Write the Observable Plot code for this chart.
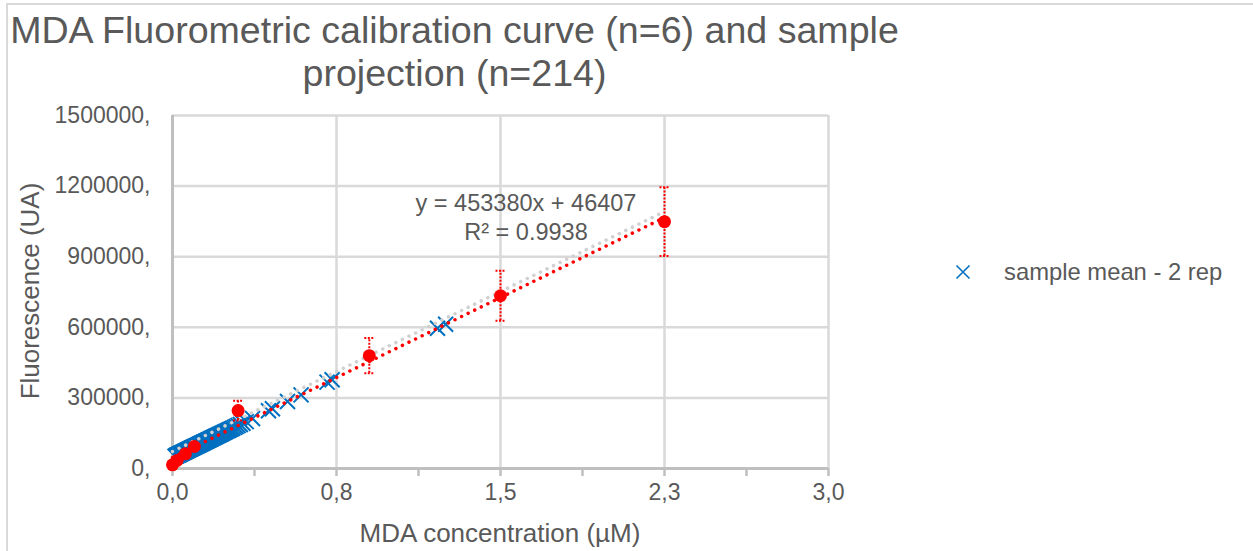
<!DOCTYPE html>
<html>
<head>
<meta charset="utf-8">
<script src="https://cdn.jsdelivr.net/npm/d3@7"></script>
<script src="https://cdn.jsdelivr.net/npm/@observablehq/plot@0.6"></script>
<style>
  html, body { margin: 0; padding: 0; background: #fff; }
  #wrap { position: relative; width: 1253px; height: 551px; overflow: hidden; font-family: "Liberation Sans", Arial, sans-serif; color: #595959; }
  #frame { position: absolute; left: 6px; top: 3px; width: 1260px; height: 560px; border-top: 2px solid #d9d9d9; border-left: 2px solid #d9d9d9; box-sizing: border-box; }
  #chart { position: absolute; left: 0; top: 0; }
  .ov { position: absolute; white-space: nowrap; }
</style>
</head>
<body>
<div id="wrap">
  <div id="frame"></div>
  <div id="chart"></div>
</div>
<script>
// ---- Data ----
const titleLines = ["MDA Fluorometric calibration curve (n=6) and sample", "projection (n=214)"];
const xTitle = "MDA concentration (µM)";
const yTitle = "Fluorescence (UA)";
const legendLabel = "sample mean - 2 rep";

// calibration standards (mean of n=6) with standard deviation
const calConc = [0, 0.021, 0.059, 0.1, 0.3, 0.9, 1.5, 2.25];
const calFluo = [15700, 34000, 62400, 93400, 246000, 479600, 734000, 1049000];
const calErr  = [3000, 5000, 8000, 12000, 42000, 75000, 106000, 146000];

// calibration equation
const slope = 453380;
const intercept = 46407;
const r2 = 0.9938;

// sample fluorescence readings (projected onto the calibration curve)
const sampleFluo = [51800, 53200, 54100, 55000, 55900, 56400, 57300, 58200, 58600, 59600, 60500, 60900, 61800, 62700, 63200, 64100, 65000, 65900, 66400, 67300, 68200, 68600, 69500, 70400, 71300, 71800, 72700, 73600, 74100, 75000, 75900, 76300, 77200, 78100, 79100, 79500, 80400, 81300, 82200, 82700, 83600, 84500, 84900, 85900, 86800, 87700, 88100, 89000, 89900, 90800, 91300, 92200, 93100, 94000, 94900, 95400, 96300, 97200, 98100, 99000, 99900, 100400, 101300, 102200, 103100, 104000, 104900, 105800, 106700, 107600, 108500, 109400, 110300, 111200, 112100, 113100, 114000, 115300, 116200, 117100, 118000, 119400, 120300, 121700, 122600, 123900, 125300, 126200, 127600, 128900, 130300, 131600, 133000, 134400, 135700, 137500, 138900, 140700, 142500, 144300, 146200, 148000, 150200, 152500, 154800, 157000, 159800, 162500, 165200, 167900, 171100, 174700, 178300, 182400, 187000, 192400, 199200, 212300, 245400, 253600, 284900, 313000, 366900, 377400, 595900, 612700];

// sample trendline (grey dotted), end points
const sampleTrendConc = [0, 2.25];
const sampleTrendFluo = [72000, 1092000];

// calibration trendline range
const calTrendConc = [0, 2.25];

// ticks
const xTicks = [0, 0.75, 1.5, 2.25, 3];
const xTickLabels = ["0,0", "0,8", "1,5", "2,3", "3,0"];
const xMinorTicks = [0, 0.375, 0.75, 1.125, 1.5, 1.875, 2.25, 2.625, 3];
const yTicks = [0, 300000, 600000, 900000, 1200000, 1500000];
const yTickLabels = ["0,", "300000,", "600000,", "900000,", "1200000,", "1500000,"];

// ---- Build tables ----
const cal = calConc.map((x, i) => ({x, y: calFluo[i], lo: calFluo[i] - calErr[i], hi: calFluo[i] + calErr[i]}));
const samples = sampleFluo.map(y => ({x: (y - intercept) / slope, y}));
const calTrend = calTrendConc.map(x => ({x, y: slope * x + intercept}));
const sampleTrend = sampleTrendConc.map((x, i) => ({x, y: sampleTrendFluo[i]}));

const TEXT = "#595959";
const GRID = "#d9d9d9";
const AXIS = "#bfbfbf";
const BLUE = "#0070c0";
const RED = "#ff0000";

const crossSymbol = {
  draw(ctx, size) {
    const h = Math.sqrt(size / Math.PI);
    ctx.moveTo(-h, -h); ctx.lineTo(h, h);
    ctx.moveTo(-h, h); ctx.lineTo(h, -h);
  }
};
const capSymbol = {
  draw(ctx, size) {
    const h = Math.sqrt(size / Math.PI);
    ctx.moveTo(-h, 0); ctx.lineTo(h, 0);
  }
};

const plot = Plot.plot({
  width: 1253,
  height: 551,
  marginLeft: 172,
  marginRight: 425,
  marginTop: 115,
  marginBottom: 83,
  style: {fontFamily: "'Liberation Sans', Arial, sans-serif", background: "transparent", color: TEXT},
  x: {domain: [0, 3], ticks: xTicks},
  y: {domain: [0, 1500000], ticks: yTicks},
  marks: [
    Plot.gridX(xTicks, {stroke: GRID, strokeOpacity: 1, strokeWidth: 2.5}),
    Plot.gridY(yTicks, {stroke: GRID, strokeOpacity: 1, strokeWidth: 2.5}),
    Plot.axisY(yTicks, {tickSize: 0, tickPadding: 22, fontSize: 23, color: TEXT, label: null,
      tickFormat: d => yTickLabels[yTicks.indexOf(d)]}),
    Plot.axisX(xMinorTicks, {tickSize: 8, stroke: AXIS, strokeWidth: 2.5, tickFormat: () => "", label: null}),
    Plot.axisX(xTicks, {tickSize: 0, tickPadding: 15, fontSize: 23, color: TEXT, label: null,
      tickFormat: d => xTickLabels[xTicks.indexOf(d)]}),
    Plot.ruleY([0], {stroke: AXIS, strokeWidth: 3}),
    Plot.ruleX([0], {stroke: AXIS, strokeWidth: 3}),
    // samples
    Plot.dot(samples, {x: "x", y: "y", symbol: crossSymbol, r: 7.5, stroke: BLUE, strokeWidth: 2, fill: "none"}),
    // trendlines
    Plot.line(sampleTrend, {x: "x", y: "y", stroke: "#d0d0d0", strokeWidth: 3.5, strokeDasharray: "0.01 7.3", strokeLinecap: "round"}),
    Plot.line(calTrend, {x: "x", y: "y", stroke: RED, strokeWidth: 3.5, strokeDasharray: "0.01 7.3", strokeLinecap: "round"}),
    // error bars
    Plot.ruleX(cal, {x: "x", y1: "lo", y2: "hi", stroke: RED, strokeWidth: 2, strokeDasharray: "2 1.5"}),
    Plot.dot(cal, {x: "x", y: "hi", symbol: capSymbol, r: 5, stroke: RED, strokeWidth: 2, strokeDasharray: "2 1.5"}),
    Plot.dot(cal, {x: "x", y: "lo", symbol: capSymbol, r: 5, stroke: RED, strokeWidth: 2, strokeDasharray: "2 1.5"}),
    // calibration points
    Plot.dot(cal, {x: "x", y: "y", r: 6.5, fill: RED, stroke: "none"})
  ]
});
document.getElementById("chart").appendChild(plot);

const wrap = document.getElementById("wrap");
function ov(html, style) {
  const d = document.createElement("div");
  d.className = "ov";
  d.innerHTML = html;
  Object.assign(d.style, style);
  wrap.appendChild(d);
  return d;
}
// title
ov(titleLines.join("<br>"), {left: "0px", top: "9px", width: "909px", textAlign: "center", fontSize: "37.6px", lineHeight: "43px"});
// equation
ov(`y = ${slope}x + ${intercept}<br>R² = ${r2}`, {left: "376px", top: "189px", width: "300px", textAlign: "center", fontSize: "23.5px", lineHeight: "29px"});
// axis titles
ov(xTitle, {left: "500px", top: "533px", transform: "translate(-50%,-50%)", fontSize: "26px"});
ov(yTitle, {left: "30px", top: "291px", transform: "translate(-50%,-50%) rotate(-90deg)", fontSize: "26px"});
// legend
ov(`<svg width="16" height="16" style="position:absolute;left:955px;top:264px;overflow:visible"><path d="M1.5,1.5L14.5,14.5M1.5,14.5L14.5,1.5" stroke="${BLUE}" stroke-width="1.6" fill="none"/></svg>`, {left: "0px", top: "0px"});
ov(legendLabel, {left: "1004px", top: "272px", transform: "translateY(-50%)", fontSize: "23.8px"});
</script>
</body>
</html>
